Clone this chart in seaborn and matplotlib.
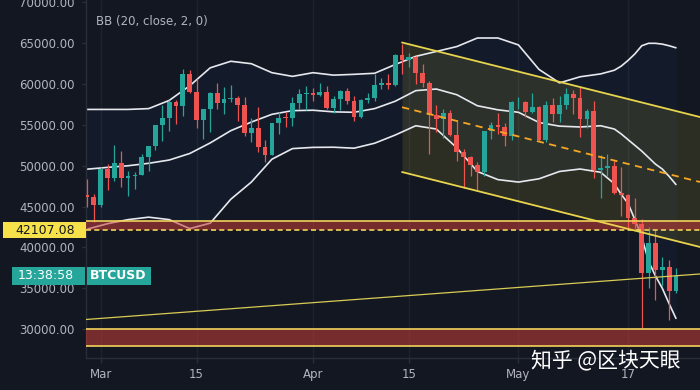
import numpy as np
import pandas as pd
import seaborn as sns
import matplotlib
matplotlib.use('Agg')
from matplotlib import pyplot as plt
from matplotlib.patches import Rectangle
from matplotlib.transforms import blended_transform_factory

# daily BTCUSD candles, Feb 27 - May 24 2021
dates = pd.date_range('2021-02-27', '2021-05-24', freq='D')
opens = [46400, 46150,
         45170, 49650, 48450, 50350, 48450, 48750, 48900, 51050, 52400, 54950,
         55900, 57800, 57300, 61200, 59000, 55600, 56900, 58900, 57650, 58150,
         58300, 57400, 54000, 54600, 52300, 51300, 55200, 55900, 55800, 57700, 58800,
         58900, 58700, 59000, 57100, 58200, 59150, 57900, 56000, 58050, 58300,
         59850, 60100, 59850, 63600, 62900, 63300, 61400, 60100, 56200, 55700,
         56500, 53800, 51700, 51100, 50100, 49200, 54300, 55000, 54800, 53600,
         57750, 57800, 56600, 57200, 53150, 57500, 56400, 57400, 58800, 58300,
         55700, 56700, 49500, 49700, 49950, 46700, 46450, 43550, 42850, 36800,
         40550, 37250, 37550, 34650]
highs = [48400, 46600,
         49800, 50200, 52600, 51800, 49300, 49200, 51400, 52400, 55000, 57400,
         58100, 58000, 61800, 61700, 60600, 57000, 59000, 60100, 59600, 59900,
         58600, 58400, 55800, 57200, 53200, 55200, 56600, 56600, 58400, 59400, 59800,
         59500, 60100, 59800, 58500, 59300, 59500, 58600, 58200, 58900, 61200,
         60800, 61200, 63700, 64900, 63800, 63500, 62500, 60400, 57500, 57000,
         56800, 55500, 52100, 51200, 50500, 54300, 55400, 56500, 55200, 57900,
         58400, 57900, 58900, 57300, 57900, 58300, 58600, 59500, 59300, 59600,
         56900, 57900, 51300, 51400, 50700, 49800, 46500, 46000, 43500, 42500,
         42200, 38800, 38400, 37500]
lows = [44900, 43100,
        45000, 47000, 48100, 47400, 46300, 47100, 48900, 49300, 51900, 53000,
        54300, 55100, 56100, 58900, 54600, 53300, 54100, 57000, 56300, 57800,
        55500, 53700, 52900, 51700, 50400, 51300, 53900, 54700, 54900, 57000, 56800,
        57900, 58500, 57000, 56500, 56800, 57600, 55500, 55900, 57700, 57900,
        59400, 59400, 59800, 61300, 62100, 60000, 59600, 51500, 54100, 53400,
        53600, 50600, 47300, 48800, 47000, 48800, 53300, 53900, 52400, 53100,
        57000, 56000, 56500, 53000, 52900, 55300, 55400, 56900, 56300, 53500,
        54600, 48500, 46000, 48800, 46600, 43900, 42100, 42300, 30100, 35000,
        33500, 35300, 31100, 34400]
closes = [46150, 45170,
          49650, 48450, 50350, 48450, 48750, 48900, 51050, 52400, 54950, 55900,
          57800, 57300, 61200, 59000, 55600, 56900, 58900, 57650, 58150, 58300,
          57400, 54000, 54600, 52300, 51300, 55200, 55900, 55800, 57700, 58800, 58900,
          58700, 59000, 57100, 58200, 59150, 57900, 56000, 58050, 58300, 59850,
          60100, 59850, 63600, 62900, 63300, 61400, 60100, 56200, 55700, 56500,
          53800, 51700, 51100, 50100, 49200, 54300, 55000, 54800, 53600, 57750,
          57800, 56600, 57200, 53150, 57500, 56400, 57400, 58800, 58300, 55700,
          56700, 49500, 49700, 49950, 46700, 46450, 43550, 42850, 36800, 40550,
          37250, 37550, 34650, 36500]

# Bollinger bands (20, close, 2)
bb_dates = ['2021-02-26', '2021-02-27', '2021-03-02', '2021-03-05', '2021-03-08',
            '2021-03-11', '2021-03-14', '2021-03-17', '2021-03-20', '2021-03-23',
            '2021-03-26', '2021-03-29', '2021-04-01', '2021-04-04', '2021-04-07',
            '2021-04-10', '2021-04-13', '2021-04-16', '2021-04-19', '2021-04-22',
            '2021-04-25', '2021-04-28', '2021-05-01', '2021-05-04', '2021-05-07',
            '2021-05-10', '2021-05-13', '2021-05-15', '2021-05-16', '2021-05-17',
            '2021-05-18', '2021-05-19', '2021-05-20', '2021-05-21', '2021-05-22',
            '2021-05-23', '2021-05-24']
bb_upper = [56900, 56900, 56900, 56900, 57000, 58000, 59800, 62000, 62800, 62500,
            61400, 60950, 61400, 61100, 61200, 61330, 62400, 63400, 64000, 64600,
            65650, 65650, 64800, 61800, 60150, 60900, 61250, 61700, 62200, 62900,
            63700, 64700, 65000, 65000, 64900, 64700, 64450]
bb_basis = [49550, 49580, 49800, 50000, 50300, 50700, 51500, 52800, 54300, 55350,
            56300, 56750, 56800, 56600, 56550, 57000, 57900, 59200, 59400, 58700,
            57350, 56850, 56550, 55300, 54850, 54750, 54900, 54500, 53900, 53200,
            52500, 51800, 51000, 50200, 49600, 48700, 47700]
bb_lower = [42200, 42230, 42900, 43400, 43700, 43400, 42300, 42970, 45900, 48000,
            50800, 52100, 52250, 52270, 52150, 52760, 53760, 54900, 54500, 52200,
            49300, 48300, 48000, 48400, 49300, 49600, 49200, 47800, 46500, 45400,
            43400, 41300, 38300, 36500, 35000, 33100, 31300]

# drawn objects
channel_dates = ['2021-04-14 00:00', '2021-05-27 12:00']
channel_top = [65100, 55970]
channel_mid = [57170, 48010]
channel_bottom = [49230, 40050]
trend_dates = ['2021-02-26 20:00', '2021-05-27 12:00']
trend_values = [31165, 36740]
zone_tops = [43270, 30000]
zone_bottoms = [42107.08, 27900]
line_price = 42107.08

tick_dates = ['2021-03-01', '2021-03-15', '2021-04-01', '2021-04-15', '2021-05-01', '2021-05-17']
tick_labels = ['Mar', '15', 'Apr', '15', 'May', '17']
price_ticks = list(range(30000, 70001, 5000))

BG = '#131722'
UP = '#26a69a'
DOWN = '#ef5350'
TXT = '#b2b5be'
LINE = '#2a2e39'

origin = pd.Timestamp('2021-03-01')


def days(d):
    return (pd.to_datetime(d, format='ISO8601') - origin) / pd.Timedelta(days=1)


sns.set_theme(style='dark', rc={'axes.facecolor': BG, 'figure.facecolor': BG})
plt.rcParams['font.family'] = ['DejaVu Sans', 'Noto Sans CJK SC']

fig = plt.figure(figsize=(7, 3.9), dpi=100)
ax = fig.add_axes([86 / 700, 32 / 390, 614 / 700, 358 / 390])

x = np.asarray(days(dates), dtype=float)
o, h, l, c = map(np.array, (opens, highs, lows, closes))
col = np.where(c >= o, UP, DOWN)

# bands
bb = pd.DataFrame({'x': np.asarray(days(bb_dates), dtype=float),
                   'upper': bb_upper, 'basis': bb_basis, 'lower': bb_lower})
ax.fill_between(bb['x'], bb['lower'], bb['upper'], color='#2196f3', alpha=0.04, lw=0, zorder=1)
for name in ['upper', 'basis', 'lower']:
    sns.lineplot(data=bb, x='x', y=name, ax=ax, color='#e6e8ee', lw=1.2, zorder=2)

# channel
cx = np.asarray(days(channel_dates), dtype=float)
ax.fill_between(cx, channel_bottom, channel_top, color='#ffeb3b', alpha=0.11, lw=0, zorder=1)

# zones
for top, bot in zip(zone_tops, zone_bottoms):
    ax.axhspan(bot, top, color='#c83c37', alpha=0.55, lw=0, zorder=3)
ax.axhline(zone_tops[0], color='#f0d35a', lw=1.2, zorder=5)
ax.axhline(zone_bottoms[0], color='#f0d35a', lw=1.2, ls=(0, (3, 2)), zorder=5)
ax.axhline(zone_tops[1], color='#f0d35a', lw=1.2, zorder=5)
ax.axhline(zone_bottoms[1], color='#f0d35a', lw=1.2, zorder=5)

# candles
ax.vlines(x, l, h, colors=col, lw=0.9, zorder=4)
body = np.maximum(np.abs(c - o), 120)
ax.bar(x, body, bottom=np.minimum(o, c), width=0.7, color=col, lw=0, zorder=4)

ch = pd.DataFrame({'x': cx, 'top': channel_top, 'mid': channel_mid, 'bottom': channel_bottom})
sns.lineplot(data=ch, x='x', y='top', ax=ax, color='#e8d44d', lw=1.3, zorder=6)
sns.lineplot(data=ch, x='x', y='bottom', ax=ax, color='#e8d44d', lw=1.3, zorder=6)
sns.lineplot(data=ch, x='x', y='mid', ax=ax, color='#f5a623', lw=1.3, ls=(0, (4, 3)), zorder=6)

tr = pd.DataFrame({'x': np.asarray(days(trend_dates), dtype=float), 'y': trend_values})
sns.lineplot(data=tr, x='x', y='y', ax=ax, color='#d8cc54', lw=0.9, zorder=6)

# axes
ax.set_xlim(-2.147, 87.51)
ax.set_ylim(26448, 70305)
ax.set_xlabel('')
ax.set_ylabel('')
ax.set_xticks(np.asarray(days(tick_dates), dtype=float), tick_labels)
ax.set_yticks(price_ticks, [f'{v:.2f}' for v in price_ticks])
ax.tick_params(axis='y', left=True, length=3, width=1, color=LINE, pad=5,
               labelsize=8.5, labelcolor=TXT)
ax.tick_params(axis='x', bottom=True, length=3.5, width=1, color=LINE, pad=3.5,
               labelsize=8.5, labelcolor=TXT)
ax.grid(False)
ax.grid(axis='x', color='#1e222d', lw=1)
ax.set_axisbelow(True)
for s in ['top', 'right']:
    ax.spines[s].set_visible(False)
for s in ['left', 'bottom']:
    ax.spines[s].set_color(LINE)
    ax.spines[s].set_linewidth(1)

ax.text(10 / 614, 1 - 21.7 / 358, 'BB (20, close, 2, 0)', transform=ax.transAxes,
        ha='left', va='center', fontsize=8.5, color=TXT)

# price labels on the scale
trans = blended_transform_factory(fig.transFigure, ax.transData)
fig.add_artist(Rectangle((3 / 700, line_price - 980), 83 / 700, 1960,
                         transform=trans, color='#f7e14a', lw=0, zorder=5))
fig.text(45.5 / 700, line_price, f'{line_price:.2f}', transform=trans, ha='center',
         va='center', fontsize=9, color='#131722', zorder=6)
last = closes[-1]
fig.add_artist(Rectangle((11.7 / 700, last - 1130), 73.3 / 700, 2260,
                         transform=trans, color=UP, lw=0, zorder=5))
fig.add_artist(Rectangle((87.3 / 700, last - 1130), 63.4 / 700, 2260,
                         transform=trans, color=UP, lw=0, zorder=5))
fig.text(46 / 700, last, '13:38:58', transform=trans, ha='center', va='center',
         fontsize=9, color='white', zorder=6)
fig.text(118 / 700, last, 'BTCUSD', transform=trans, ha='center', va='center',
         fontsize=9, color='white', fontweight='bold', zorder=6)

fig.text(606 / 700, 1 - 360 / 390, '知乎 @区块天眼', ha='center', va='center',
         fontsize=15, color='white', family=['Noto Sans CJK SC', 'DejaVu Sans'], zorder=7)

fig.savefig('out.png', dpi=100, facecolor=BG)
